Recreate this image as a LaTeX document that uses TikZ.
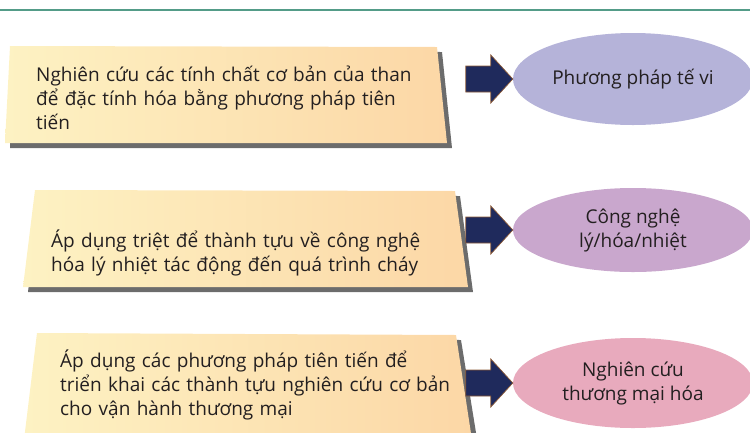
\documentclass[tikz,border=0pt]{standalone}
\usepackage{fontspec}
\setmainfont{Open Sans}
\usetikzlibrary{calc,shapes.geometric}
\definecolor{topteal}{RGB}{84,156,136}
\definecolor{boxl}{RGB}{253,242,195}
\definecolor{boxr}{RGB}{252,215,166}
\definecolor{shadowc}{RGB}{108,108,108}
\definecolor{navy}{RGB}{31,42,92}
\definecolor{arrowedge}{RGB}{140,90,55}
\definecolor{ellA}{RGB}{181,179,217}
\definecolor{ellB}{RGB}{201,167,205}
\definecolor{ellC}{RGB}{232,170,189}
\definecolor{txt}{RGB}{35,31,32}
\begin{document}
\begin{tikzpicture}[x=1pt,y=-1pt,
  boxtext/.style={anchor=base west, inner sep=0pt, text width=430pt, align=left,
    font=\fontsize{19}{24}\selectfont, text=txt},
  ellnode/.style={ellipse, inner sep=0pt, minimum width=240pt, align=center,
    font=\fontsize{19}{24}\selectfont, text=txt},
  blockarrow/.style={fill=navy, draw=arrowedge, line width=0.7pt, line join=miter},
  boxshade/.style={left color=boxl, right color=boxr},
  boxshadow/.style={fill=shadowc}
]
\useasboundingbox (0,0) rectangle (750,432);
\clip (0,0) rectangle (750,432);

% top rule
\draw[topteal, line width=2.4pt] (0,10) -- (750,10);

% box 1
\fill[boxshadow] (15,51) -- (442,52) -- (452,148) -- (10,148) -- cycle;
\shade[boxshade] (10,46) -- (437,47) -- (447,143) -- (5,143) -- cycle;
\node[boxtext] (t1) at (36,81) {Nghiên cứu các tính chất cơ bản của than\\để đặc tính hóa bằng phương pháp tiên\\tiến};

% box 2
\fill[boxshadow] (40,195) -- (460,196) -- (473,292) -- (28,292) -- cycle;
\shade[boxshade] (35,190) -- (455,191) -- (468,287) -- (23,287) -- cycle;
\node[boxtext] (t2) at (51,247) {Áp dụng triệt để thành tựu về công nghệ\\hóa lý nhiệt tác động đến quá trình cháy};

% box 3
\fill[boxshadow] (42,338) -- (461,340) -- (478,445) -- (29,445) -- cycle;
\shade[boxshade] (37,333) -- (456,335) -- (472,440) -- (24,440) -- cycle;
\node[boxtext] (t3) at (60,367) {Áp dụng các phương pháp tiên tiến để\\triển khai các thành tựu nghiên cứu cơ bản\\cho vận hành thương mại};

% ellipses
\node[ellnode, fill=ellA, minimum height=92pt] (e1) at (633,79) {Phương pháp tế vi};
\node[ellnode, fill=ellB, minimum height=84pt] (e2) at (633,230) {Công nghệ\\lý/hóa/nhiệt};
\node[ellnode, fill=ellC, minimum height=90pt] (e3) at (633,383) {Nghiên cứu\\thương mại hóa};

% block arrows
\foreach \e in {e1,e2,e3}{
  \draw[blockarrow] (\e.west) -- ++(-22,-24) -- ++(0,11) -- ++(-25,0) -- ++(0,26)
    -- ++(25,0) -- ++(0,11) -- cycle;
}
\end{tikzpicture}
\end{document}
